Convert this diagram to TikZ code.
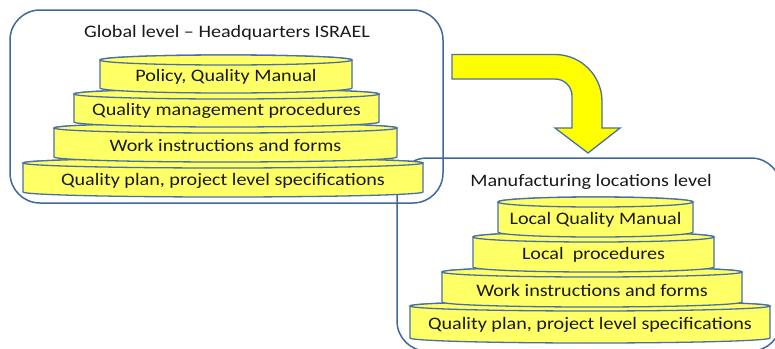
\documentclass[tikz,border=0pt]{standalone}
\usepackage{fontspec}
\setmainfont{Carlito}[FakeStretch=1.15]
\usetikzlibrary{positioning}
\usetikzlibrary{calc}

\definecolor{tierfill}{HTML}{FFFF66}
\definecolor{edgeblue}{HTML}{4A6FA5}
\definecolor{boxblue}{HTML}{41689A}
\definecolor{arrowfill}{HTML}{FFFF00}

\begin{document}
\begin{tikzpicture}[x=1pt, y=-1pt,
    tierbox/.style={fill=tierfill, draw=edgeblue, line width=1.3pt},
    levelbox/.style={draw=boxblue, line width=1.5pt, rounded corners=30pt},
    tiertext/.style={font=\fontsize{17.5}{20}\selectfont, text=black!90, inner sep=0pt}]

    \useasboundingbox (0,0) rectangle (775,348);
    \clip (0,0) rectangle (775,348);

    % Level frames
    \draw[levelbox] (397,158) rectangle (781,351);
    \draw[levelbox] (10,10) rectangle (443,203);

    % Bent arrow
    \draw[fill=arrowfill, draw=edgeblue, line width=1.3pt, line join=miter]
        (452,54.5) -- (555,54.5) arc[start angle=90, end angle=0, radius=47pt]
        -- (602,128) -- (620,128) -- (588,153) -- (555,128) -- (572,128)
        -- (572,96) arc[start angle=0, end angle=90, radius=17pt]
        -- (452,79) -- cycle;

    % Tiers, drawn from the bottom up
    \foreach \xl/\xr/\yt/\yb/\name/\txt in {
        23/423/163/192/gplan/{Quality plan, project level specifications},
        54/397/128/157/gwork/{Work instructions and forms},
        74/379/94/122/gproc/{Quality management procedures},
        100/352/60/88/gman/{Policy, Quality Manual},
        410/770/306/338/lplan/{Quality plan, project level specifications},
        442/742/272/302/lwork/{Work instructions and forms},
        473/714/237/267/lproc/{Local\ \ procedures},
        498/693/202/232/lman/{Local Quality Manual}}{
        \pgfmathsetmacro{\rx}{(\xr-\xl)/2}
        \draw[tierbox] (\xl,\yt) -- (\xl,\yb)
            arc[start angle=180, end angle=360, x radius=\rx*1pt, y radius=5pt]
            -- (\xr,\yt) arc[start angle=0, end angle=180, x radius=\rx*1pt, y radius=5pt] -- cycle;
        \draw[tierbox] ({\xl+\rx},\yt) ellipse[x radius=\rx*1pt, y radius=5pt];
        \node[tiertext] (\name) at ({\xl+\rx}, {(\yt+\yb)/2+3}) {\txt};
    }

    % Level titles
    \node[tiertext] (hq) at (227,33) {Global level – Headquarters ISRAEL};
    \node[tiertext] (sites) at (591,182) {Manufacturing locations level};

\end{tikzpicture}
\end{document}
